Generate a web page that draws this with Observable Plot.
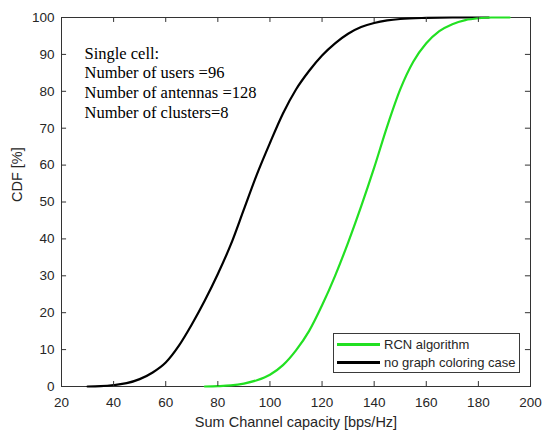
<!DOCTYPE html>
<html><head><meta charset="utf-8">
<script src="https://cdn.jsdelivr.net/npm/d3@7"></script>
<script src="https://cdn.jsdelivr.net/npm/@observablehq/plot@0.6"></script>
<style>
body{margin:0;background:#fff}
#wrap{position:relative;width:542px;height:433px}
#legend{position:absolute;left:333px;top:333px;width:187px;height:40px;box-sizing:border-box;border:1px solid #3a3a3a;background:#fff;font-family:"Liberation Sans",Arial,sans-serif;font-size:13px;color:#262626}
.row{position:absolute;left:3px;height:18px;display:flex;align-items:center}
.sw{width:43px;height:3px;margin-right:4px}
</style>
</head><body><div id="wrap"></div>
<script>
// Data
const greenX = [75, 80, 85, 90, 95, 100, 105, 110, 115, 120, 125, 130, 135, 140, 145, 150, 155, 160, 165, 170, 175, 180, 185, 192];
const greenY = [0, 0.1, 0.3, 0.8, 1.7, 3.2, 5.8, 9.8, 15, 22, 30, 39, 48.8, 59.3, 70.5, 80.5, 88, 93, 96.3, 98.2, 99.3, 99.8, 100, 100];
const blackX = [30, 35, 40, 45, 50, 55, 60, 65, 70, 75, 80, 85, 90, 95, 100, 105, 110, 115, 120, 125, 130, 135, 140, 145, 150, 160, 170, 184];
const blackY = [0, 0.1, 0.4, 0.9, 2.0, 3.8, 6.5, 11, 16.8, 23.3, 30.5, 38.5, 48, 57.5, 66, 74, 80.5, 85.5, 89.7, 93, 95.6, 97.4, 98.5, 99.2, 99.6, 99.9, 100, 100];
const seriesNames = ["RCN algorithm", "no graph coloring case"];
const seriesColors = ["#22e022", "#000000"];
const xTicks = [20, 40, 60, 80, 100, 120, 140, 160, 180, 200];
const yTicks = [0, 10, 20, 30, 40, 50, 60, 70, 80, 90, 100];
const xLabel = "Sum Channel capacity [bps/Hz]";
const yLabel = "CDF [%]";
const noteLines = ["Single cell:", "Number of users =96", "Number of antennas =128", "Number of clusters=8"];

const green = greenX.map((x, i) => ({x, y: greenY[i]}));
const black = blackX.map((x, i) => ({x, y: blackY[i]}));
const axisColor = "#333333";
const xDomain = [20, 200], yDomain = [0, 100];
// inward tick length as a fraction of each axis span (about 5px)
const tickFrac = 0.0135;
const xTickLen = (xDomain[1] - xDomain[0]) * tickFrac * 0.8;
const yTickLen = (yDomain[1] - yDomain[0]) * tickFrac;

const chart = Plot.plot({
  width: 542, height: 433,
  marginLeft: 61, marginRight: 12, marginTop: 17, marginBottom: 47,
  style: {fontFamily: "'Liberation Sans', Arial, sans-serif", fontSize: "13.5px", color: "#262626", background: "#fff"},
  x: {domain: xDomain},
  y: {domain: yDomain},
  marks: [
    Plot.axisX(xTicks, {anchor: "bottom", tickSize: 0, tickPadding: 11, label: null, fill: "#262626", fontSize: 13.5}),
    Plot.axisY(yTicks, {anchor: "left", tickSize: 0, tickPadding: 7, label: null, fill: "#262626", fontSize: 13.5}),
    Plot.frame({stroke: axisColor, strokeWidth: 1}),
    Plot.line(black, {x: "x", y: "y", stroke: seriesColors[1], strokeWidth: 2.2, curve: "monotone-x"}),
    Plot.line(green, {x: "x", y: "y", stroke: seriesColors[0], strokeWidth: 2.2, curve: "monotone-x"}),
    // inward ticks on all four sides
    Plot.ruleX(xTicks, {x: (d) => d, y1: yDomain[0], y2: yDomain[0] + yTickLen, stroke: axisColor, strokeWidth: 1}),
    Plot.ruleX(xTicks, {x: (d) => d, y1: yDomain[1], y2: yDomain[1] - yTickLen, stroke: axisColor, strokeWidth: 1}),
    Plot.ruleY(yTicks, {y: (d) => d, x1: xDomain[0], x2: xDomain[0] + xTickLen * 1.0, stroke: axisColor, strokeWidth: 1}),
    Plot.ruleY(yTicks, {y: (d) => d, x1: xDomain[1], x2: xDomain[1] - xTickLen * 1.0, stroke: axisColor, strokeWidth: 1}),
    Plot.text([noteLines.join("\n")], {frameAnchor: "top-left", dx: 23, dy: 27, textAnchor: "start", lineAnchor: "top", lineHeight: 1.2, fontFamily: "'Liberation Serif', 'Times New Roman', serif", fontSize: 16.5, fill: "#000"}),
    Plot.text([xLabel], {frameAnchor: "bottom", dy: 36, lineAnchor: "middle", fontSize: 14.5, fill: "#262626"}),
    Plot.text([yLabel], {frameAnchor: "left", dx: -44, rotate: -90, lineAnchor: "middle", fontSize: 14.5, fill: "#262626"})
  ]
});
const wrap = document.getElementById("wrap");
wrap.appendChild(chart);
const legend = document.createElement("div");
legend.id = "legend";
seriesNames.forEach((name, i) => {
  const row = document.createElement("div");
  row.className = "row";
  row.style.top = (1 + i * 18) + "px";
  const sw = document.createElement("span");
  sw.className = "sw";
  sw.style.background = seriesColors[i];
  const t = document.createElement("span");
  t.textContent = name;
  row.appendChild(sw); row.appendChild(t);
  legend.appendChild(row);
});
wrap.appendChild(legend);
</script>
</body></html>
